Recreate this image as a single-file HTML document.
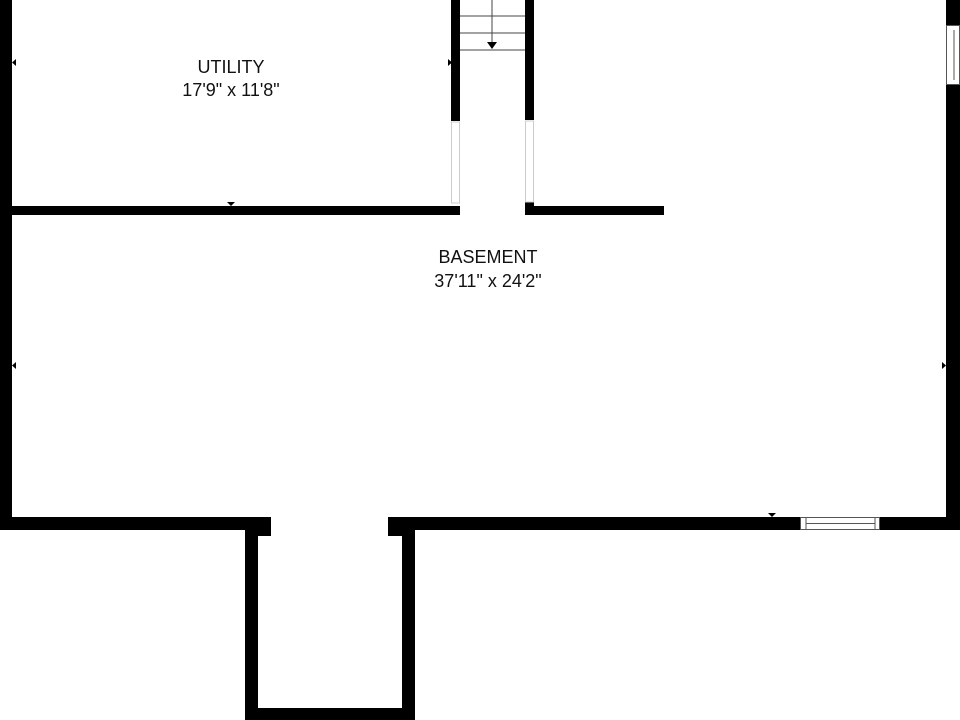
<!DOCTYPE html>
<html><head><meta charset="utf-8"><style>
html,body{margin:0;padding:0;background:#fff;}
svg{display:block;}
text{font-family:"Liberation Sans",sans-serif;font-size:18px;fill:#111;text-anchor:middle;}
</style></head><body>
<svg width="960" height="720" viewBox="0 0 960 720">
<rect width="960" height="720" fill="#fff"/>
<g fill="#000">
<rect x="0" y="0" width="12" height="530"/>
<rect x="0" y="206" width="460" height="9"/>
<rect x="451" y="0" width="9" height="121"/>
<rect x="525" y="0" width="9" height="120"/>
<rect x="525" y="202" width="9" height="13"/>
<rect x="525" y="206" width="139" height="9"/>
<rect x="946" y="0" width="14" height="25"/>
<rect x="946" y="85" width="14" height="435"/>
<rect x="0" y="517" width="271" height="13"/>
<rect x="245" y="517" width="26" height="19"/>
<rect x="245" y="517" width="13" height="203"/>
<rect x="245" y="708" width="170" height="12"/>
<rect x="402" y="517" width="13" height="203"/>
<rect x="388" y="517" width="27" height="19"/>
<rect x="388" y="517" width="412" height="13"/>
<rect x="880" y="517" width="80" height="13"/>
</g>
<g stroke="#ccc" stroke-width="1" fill="none">
<rect x="451.5" y="122" width="8" height="81"/>
<rect x="525.5" y="121" width="8" height="81"/>
</g>
<g stroke="#555" stroke-width="1" fill="#fff">
<rect x="946.5" y="25.5" width="13" height="59"/>
<line x1="954" y1="30" x2="954" y2="80"/>
</g>
<g stroke="#555" stroke-width="1" fill="#fff">
<rect x="800.5" y="517.5" width="79" height="12"/>
<line x1="806" y1="518" x2="806" y2="529"/>
<line x1="875" y1="518" x2="875" y2="529"/>
<line x1="806" y1="523.5" x2="875" y2="523.5"/>
</g>
<g stroke="#444" stroke-width="1">
<line x1="460" y1="16" x2="525" y2="16"/>
<line x1="460" y1="33" x2="525" y2="33"/>
<line x1="460" y1="50" x2="525" y2="50"/>
<line x1="492" y1="0" x2="492" y2="44"/>
</g>
<polygon points="487,42 497,42 492,49" fill="#000"/>
<g fill="#000">
<polygon points="12,62.5 16,59 16,66"/>
<polygon points="452,62.5 448,59 448,66"/>
<polygon points="227,202 235,202 231,206"/>
<polygon points="12,365.5 16,362 16,369"/>
<polygon points="946,365.5 942,362 942,369"/>
<polygon points="768,513 776,513 772,517"/>
</g>
<text x="231" y="73">UTILITY</text>
<text x="231" y="96">17'9" x 11'8"</text>
<text x="488" y="263">BASEMENT</text>
<text x="488" y="287">37'11" x 24'2"</text>
</svg>
</body></html>
